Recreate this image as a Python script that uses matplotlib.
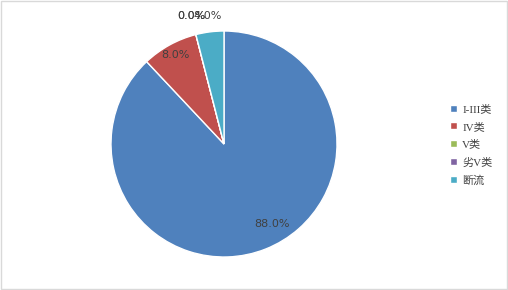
import numpy as np
import matplotlib
matplotlib.use('Agg')
import matplotlib.pyplot as plt
from matplotlib.patches import Rectangle

categories = ['I-III类', 'IV类', 'V类', '劣V类', '断流']
values = [88.0, 8.0, 0.0, 0.0, 4.0]
colors = ['#4F81BD', '#C0504D', '#9BBB59', '#8064A2', '#4BACC6']
label_dist = [0.83, 0.9, 1.17, 1.17, 1.14]

fig = plt.figure(figsize=(5.08, 2.90), dpi=100)
fig.patches.append(Rectangle((0.001, 0.002), 0.997, 0.995, transform=fig.transFigure,
                             fill=False, edgecolor='#D9D9D9', linewidth=1))

ax = fig.add_axes([111 / 508, (290 - 144 - 113) / 290, 226 / 508, 226 / 290])
wedges, _ = ax.pie(values, colors=colors, startangle=90, counterclock=False,
                   radius=1, wedgeprops=dict(edgecolor='white', linewidth=1))
ax.set_xlim(-1, 1)
ax.set_ylim(-1, 1)
ax.set_aspect('equal')
ax.axis('off')

# percentage labels at the slice middles
total = sum(values)
start = 90.0
for v, d in zip(values, label_dist):
    mid = start - v / total * 360 / 2
    start -= v / total * 360
    th = np.deg2rad(mid)
    if v == 88.0:
        th = np.deg2rad(-59)
    ax.text(d * np.cos(th), d * np.sin(th), '%.1f%%' % v, ha='center', va='center',
            fontsize=8, color='#404040', family='DejaVu Sans')

leg = fig.legend(wedges, categories, loc='center left', bbox_to_anchor=(440 / 508, 0.5),
                 frameon=False, fontsize=8, handlelength=0.6, handleheight=0.6,
                 handletextpad=0.5, labelspacing=0.7,
                 prop={'family': ['Liberation Serif', 'Noto Sans CJK SC'], 'size': 8})
for t in leg.get_texts():
    t.set_color('#404040')

fig.savefig('out.png', dpi=100)
